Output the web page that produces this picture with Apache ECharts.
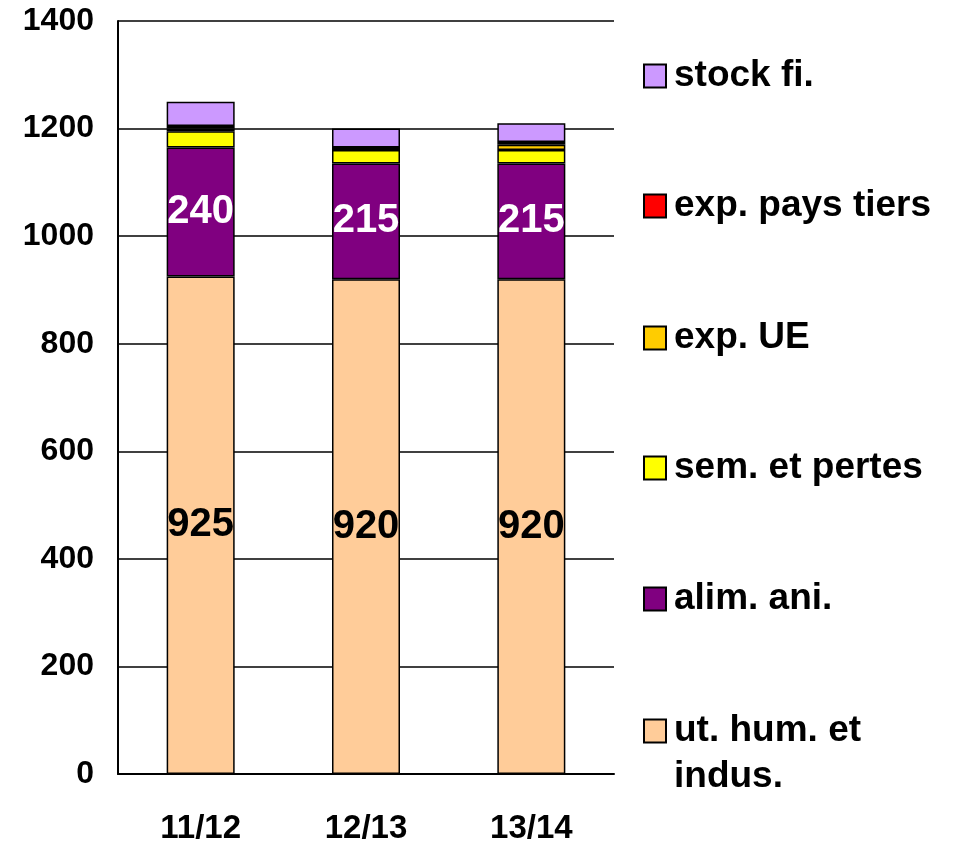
<!DOCTYPE html>
<html>
<head>
<meta charset="utf-8">
<script src="https://cdn.jsdelivr.net/npm/echarts@6/dist/echarts.min.js"></script>
<style>
  html, body { margin: 0; padding: 0; background: #fff; }
  #chart { width: 962px; height: 848px; }
</style>
</head>
<body>
<div id="chart"></div>
<script>
// données
var categories = ['11/12', '12/13', '13/14'];
var utHum = [925, 920, 920];
var alimAni = [240, 215, 215];
var semPertes = [30, 25, 25];
var expUE = [5, 5, 10];
var expTiers = [5, 0, 5];
var stockFi = [45, 35, 35];
var yTicks = [0, 200, 400, 600, 800, 1000, 1200, 1400];

var FONT = '"Liberation Sans", Arial, sans-serif';
var myChart = echarts.init(document.getElementById('chart'));

function serie(name, data, color, labelColor) {
    var s = {
        name: name,
        type: 'bar',
        stack: 'total',
        data: data,
        barWidth: 68,
        itemStyle: { color: color, borderColor: '#000', borderWidth: 1.5 },
        emphasis: { disabled: true }
    };
    if (labelColor) {
        s.label = {
            show: true,
            position: 'inside',
            color: labelColor,
            fontFamily: FONT,
            fontWeight: 'bold',
            fontSize: 40
        };
    }
    return s;
}

// une légende par élément pour caler les positions
var legendNames = ['stock fi.', 'exp. pays tiers', 'exp. UE', 'sem. et pertes', 'alim. ani.', 'ut. hum. et indus.'];
var legendCenters = [71, 201, 333, 463, 594, 726];
var LH = 46;
var legends = legendNames.map(function (n, i) {
    var last = i === legendNames.length - 1;
    return {
        data: [n],
        left: 638,
        top: last ? legendCenters[i] - 1.5 * LH : legendCenters[i] - LH / 2,
        itemWidth: 22,
        itemHeight: 23,
        itemGap: 0,
        selectedMode: false,
        icon: 'rect',
        // ligne vide en tête : la 1re ligne reste alignée sur le carré
        formatter: last ? function () { return ' \nut. hum. et\nindus.'; } : '{name}',
        itemStyle: { borderColor: '#000', borderWidth: 2 },
        textStyle: {
            fontFamily: FONT,
            fontWeight: 'bold',
            fontSize: 37,
            color: '#000',
            lineHeight: LH,
            padding: [0, 0, 0, 3]
        }
    };
});

var option = {
    animation: false,
    backgroundColor: '#fff',
    grid: { left: 118, right: 348, top: 21, bottom: 74, containLabel: false },
    legend: legends,
    xAxis: {
        type: 'category',
        data: categories,
        axisLine: { lineStyle: { color: '#000', width: 2 } },
        axisTick: { show: false },
        axisLabel: { color: '#000', fontFamily: FONT, fontWeight: 'bold', fontSize: 33, margin: 38 }
    },
    yAxis: {
        type: 'value',
        min: 0,
        max: 1400,
        interval: 200,
        axisLine: { show: true, lineStyle: { color: '#000', width: 2 } },
        axisTick: { show: false },
        splitLine: { lineStyle: { color: '#000', width: 1.5 } },
        axisLabel: {
            color: '#000', fontFamily: FONT, fontWeight: 'bold', fontSize: 32, margin: 24,
            formatter: function (v) { return yTicks.indexOf(v) >= 0 ? String(v) : ''; }
        }
    },
    series: [
        serie('ut. hum. et indus.', utHum, '#FFCC99', '#000'),
        serie('alim. ani.', alimAni, '#800080', '#fff'),
        serie('sem. et pertes', semPertes, '#FFFF00'),
        serie('exp. UE', expUE, '#FFCC00'),
        serie('exp. pays tiers', expTiers, '#FF0000'),
        serie('stock fi.', stockFi, '#CC99FF')
    ]
};

myChart.setOption(option);
</script>
</body>
</html>
